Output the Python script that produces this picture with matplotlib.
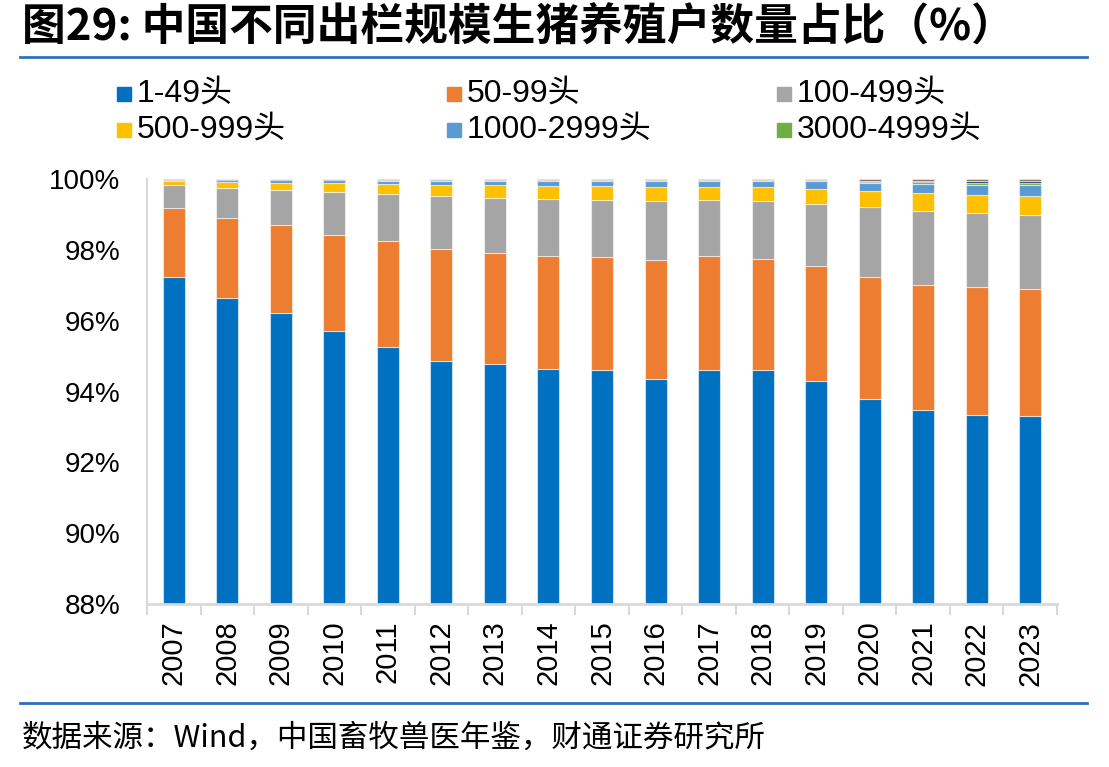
import matplotlib
matplotlib.use("Agg")
import matplotlib.pyplot as plt
import numpy as np
from matplotlib.lines import Line2D
from matplotlib.patches import Rectangle

plt.rcParams["font.family"] = ["Liberation Sans", "Noto Sans CJK SC"]

years = ["2007", "2008", "2009", "2010", "2011", "2012", "2013", "2014", "2015",
         "2016", "2017", "2018", "2019", "2020", "2021", "2022", "2023"]

# share of farms by yearly output scale (%)
s_1_49 = [97.23, 96.64, 96.22, 95.71, 95.26, 94.86, 94.78, 94.63, 94.61,
          94.35, 94.61, 94.61, 94.30, 93.79, 93.48, 93.34, 93.31]
s_50_99 = [1.95, 2.26, 2.48, 2.71, 2.99, 3.16, 3.13, 3.19, 3.19,
           3.36, 3.21, 3.13, 3.24, 3.44, 3.53, 3.61, 3.58]
s_100_499 = [0.66, 0.85, 1.00, 1.22, 1.33, 1.51, 1.56, 1.62, 1.61,
             1.68, 1.59, 1.65, 1.76, 1.98, 2.09, 2.10, 2.10]
s_500_999 = [0.09, 0.16, 0.19, 0.24, 0.28, 0.30, 0.35, 0.36, 0.39,
             0.38, 0.36, 0.38, 0.42, 0.45, 0.50, 0.50, 0.53]
s_1000_2999 = [0.04, 0.06, 0.08, 0.08, 0.09, 0.12, 0.12, 0.14, 0.14,
               0.16, 0.16, 0.16, 0.21, 0.22, 0.27, 0.28, 0.30]
s_3000_4999 = [0.005, 0.01, 0.01, 0.02, 0.02, 0.03, 0.03, 0.03, 0.03,
               0.03, 0.03, 0.03, 0.03, 0.04, 0.04, 0.07, 0.08]
s_5000_9999 = [0.01, 0.01, 0.01, 0.01, 0.01, 0.01, 0.01, 0.01, 0.01,
               0.01, 0.01, 0.01, 0.01, 0.03, 0.03, 0.03, 0.04]
s_10000_up = [0.015, 0.02, 0.02, 0.02, 0.02, 0.01, 0.02, 0.02, 0.02,
              0.03, 0.03, 0.03, 0.03, 0.05, 0.06, 0.07, 0.06]

series = [s_1_49, s_50_99, s_100_499, s_500_999, s_1000_2999, s_3000_4999,
          s_5000_9999, s_10000_up]
names = ["1-49头", "50-99头", "100-499头", "500-999头", "1000-2999头",
         "3000-4999头", "5000-9999头", "10000头以上"]
colors = ["#0070C0", "#ED7D31", "#A5A5A5", "#FFC000", "#5B9BD5", "#70AD47",
          "#264478", "#8C6A5A"]

fig = plt.figure(figsize=(11.09, 7.67), dpi=100)
ax = fig.add_axes([147 / 1109, 1 - 604 / 767, (1057 - 147) / 1109, (604 - 179) / 767])

x = np.arange(len(years))
bottom = np.zeros(len(years))
for vals, c in zip(series, colors):
    ax.bar(x, vals, width=0.41, bottom=bottom, color=c,
           edgecolor=(1, 1, 1, 0.55), linewidth=0.8, zorder=2)
    bottom += np.array(vals)

ax.set_ylim(88, 100)
ax.set_xlim(-0.5, len(years) - 0.5)
ax.set_yticks(np.arange(88, 101, 2))
ax.set_yticklabels([f"{v}%" for v in range(88, 101, 2)], fontsize=20)
ax.set_xticks(x)
ax.set_xticklabels(years, rotation=90, fontsize=21)
ax.set_xticks(np.arange(-0.5, len(years), 1), minor=True)
ax.tick_params(axis="x", which="major", length=0, pad=12)
ax.tick_params(axis="x", which="minor", length=8, width=1.5, color="#D9D9D9")
ax.tick_params(axis="y", length=0, pad=19)
for s in ["top", "right"]:
    ax.spines[s].set_visible(False)
ax.spines["left"].set_color("#D9D9D9")
ax.spines["left"].set_linewidth(1.5)
ax.spines["bottom"].set_color("#D9D9D9")
ax.spines["bottom"].set_linewidth(2)

# legend (first six scales only, as in the source)
for i in range(6):
    col, row = i % 3, i // 3
    lx = 117 + col * 330
    ly = 94 + row * 36
    fig.patches.append(Rectangle((lx / 1109, 1 - (ly + 7) / 767), 14 / 1109, 14 / 767,
                                 transform=fig.transFigure, color=colors[i]))
    fig.text((lx + 20) / 1109, 1 - ly / 767, names[i], fontsize=23,
             va="center", ha="left")

fig.text(22 / 1109, 1 - 28 / 767, "图29: 中国不同出栏规模生猪养殖户数量占比（%）",
         fontsize=31.5, fontweight="bold", family=["Noto Sans CJK SC"],
         va="center", ha="left")
fig.add_artist(Line2D([20 / 1109, 1087 / 1109], [1 - 57 / 767] * 2,
                      transform=fig.transFigure, color="#2F6FBF", lw=2))
fig.add_artist(Line2D([20 / 1109, 1087 / 1109], [1 - 703 / 767] * 2,
                      transform=fig.transFigure, color="#2F6FBF", lw=2))
fig.text(22 / 1109, 1 - 738 / 767, "数据来源：Wind，中国畜牧兽医年鉴，财通证券研究所",
         fontsize=22, family=["Noto Sans CJK SC"], va="center", ha="left")

fig.savefig("out.png", dpi=100)
